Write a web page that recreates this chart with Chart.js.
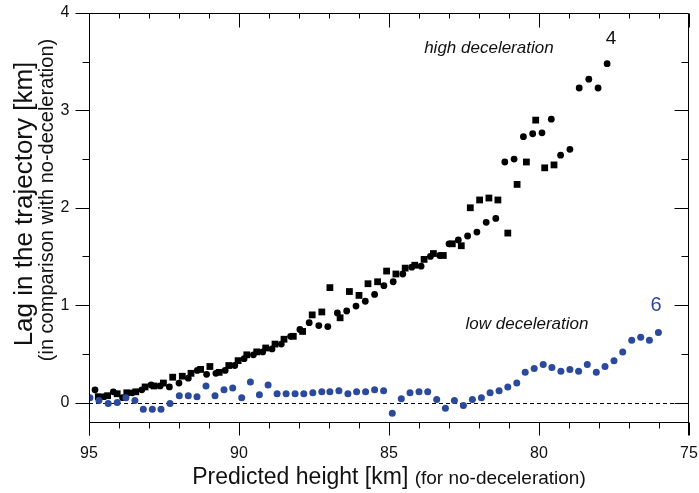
<!DOCTYPE html>
<html>
<head>
<meta charset="utf-8">
<script src="https://cdn.jsdelivr.net/npm/chart.js@4/dist/chart.umd.min.js"></script>
<style>
html,body{margin:0;padding:0;background:#fff;}
#wrap{width:699px;height:493px;}
</style>
</head>
<body>
<div id="wrap"><canvas id="c" width="699" height="493"></canvas></div>
<script>
// high deceleration (case 4) – circles
const circleX = [94.80,94.50,94.19,93.88,93.56,93.24,92.93,92.63,92.32,92.00,91.69,91.39,91.08,90.77,90.46,90.14,89.83,89.52,89.21,88.90,88.59,88.28,87.97,87.66,87.34,87.04,86.72,86.41,86.10,85.79,85.48,85.17,84.86,84.54,84.24,83.93,83.62,83.31,83.00,82.69,82.38,82.07,81.76,81.44,81.14,80.83,80.52,80.21,79.90,79.59,79.28,78.97,78.66,78.34,78.03,77.73];
const circleY = [0.13,0.06,0.11,0.05,0.10,0.13,0.18,0.17,0.16,0.20,0.25,0.33,0.29,0.30,0.33,0.38,0.45,0.49,0.52,0.55,0.60,0.68,0.75,0.82,0.79,0.78,0.92,0.94,0.99,1.04,1.11,1.20,1.24,1.32,1.39,1.40,1.50,1.51,1.63,1.67,1.71,1.75,1.85,1.89,2.47,2.50,2.73,2.76,2.77,2.91,2.54,2.60,3.23,3.32,3.23,3.48];
// high deceleration (case 4) – squares
const squareX = [94.69,94.38,94.06,93.74,93.44,93.13,92.83,92.52,92.21,91.89,91.60,91.28,90.97,90.66,90.34,90.03,89.74,89.41,89.11,88.80,88.50,88.19,87.88,87.56,87.24,86.97,86.63,86.32,86.00,85.70,85.38,85.08,84.77,84.46,84.14,83.83,83.52,83.19,82.89,82.59,82.29,81.98,81.67,81.37,81.04,80.73,80.42,80.11,79.81,79.50];
const squareY = [0.06,0.07,0.09,0.10,0.11,0.16,0.17,0.20,0.26,0.27,0.30,0.34,0.37,0.31,0.38,0.43,0.49,0.52,0.56,0.60,0.65,0.68,0.73,0.90,0.93,1.18,0.87,1.14,1.10,1.22,1.24,1.35,1.32,1.38,1.41,1.47,1.53,1.51,1.63,1.61,2.00,2.08,2.10,2.08,1.74,2.24,2.47,2.90,2.41,2.44];
// low deceleration (case 6) – blue circles
const blueX = [94.97,94.67,94.36,94.06,93.77,93.47,93.19,92.89,92.60,92.30,91.99,91.69,91.40,91.10,90.80,90.50,90.21,89.91,89.62,89.32,89.03,88.73,88.43,88.13,87.84,87.54,87.24,86.97,86.67,86.37,86.08,85.78,85.48,85.18,84.89,84.59,84.30,84.00,83.71,83.41,83.12,82.82,82.52,82.22,81.92,81.63,81.33,81.04,80.74,80.46,80.16,79.86,79.57,79.27,78.97,78.68,78.39,78.09,77.80,77.50,77.21,76.91,76.61,76.32,76.02];
const blueY = [0.05,0.02,-0.01,0.00,0.05,0.02,-0.07,-0.07,-0.07,-0.01,0.07,0.07,0.06,0.17,0.07,0.13,0.15,0.05,0.21,0.08,0.18,0.09,0.09,0.09,0.09,0.10,0.11,0.11,0.12,0.09,0.11,0.11,0.13,0.12,-0.11,0.04,0.10,0.11,0.11,0.03,-0.06,0.02,-0.03,0.03,0.05,0.10,0.12,0.16,0.20,0.31,0.35,0.39,0.36,0.32,0.34,0.32,0.39,0.31,0.37,0.43,0.52,0.64,0.67,0.64,0.72];

const xTickLabels = [95, 90, 85, 80, 75];
const yTickLabels = [0, 1, 2, 3, 4];
const xTitle = 'Predicted height [km]';
const xSubTitle = '(for no-deceleration)';
const yTitle = 'Lag in the trajectory [km]';
const ySubTitle = '(in comparison with no-deceleration)';
const highLabel = 'high deceleration';
const lowLabel = 'low deceleration';
const highCase = '4';
const lowCase = '6';

const BLUE = '#2b4a9c';
const FONT = '"Liberation Sans", Arial, sans-serif';

function pts(xs, ys){ return xs.map((x,i)=>({x:x, y:ys[i]})); }

const axesPlugin = {
  id: 'axesPlugin',
  beforeDatasetsDraw(chart){
    const ctx = chart.ctx, ys = chart.scales.y;
    const a = chart.chartArea;
    ctx.save();
    const y0 = Math.round(ys.getPixelForValue(0)) + 0.5;
    ctx.strokeStyle = '#000'; ctx.lineWidth = 1;
    ctx.setLineDash([4,3]);
    ctx.beginPath(); ctx.moveTo(a.left, y0); ctx.lineTo(a.right, y0); ctx.stroke();
    ctx.setLineDash([]);
    ctx.restore();
  },
  afterDraw(chart){
    const ctx = chart.ctx, xs = chart.scales.x, ys = chart.scales.y;
    const a = chart.chartArea;
    const L = Math.round(a.left)+0.5, R = Math.round(a.right)-0.5, T = Math.round(a.top)+0.5, B = Math.round(a.bottom)+0.5;
    ctx.save();
    ctx.strokeStyle = '#000'; ctx.lineWidth = 1;
    // frame
    ctx.beginPath();
    ctx.moveTo(L, T); ctx.lineTo(R, T);
    ctx.moveTo(L, T); ctx.lineTo(L, B + 13);
    ctx.moveTo(L, B); ctx.lineTo(R, B);
    ctx.moveTo(R, T); ctx.lineTo(R, B + 13);
    ctx.stroke();
    // x ticks
    ctx.beginPath();
    for (let v = 75; v <= 95; v++) {
      const px = Math.round(xs.getPixelForValue(v)) + 0.5;
      const major = v % 5 === 0;
      ctx.moveTo(px, B); ctx.lineTo(px, B + (major ? 13 : 6));
      ctx.moveTo(px, T); ctx.lineTo(px, T + (major ? 14 : 5));
    }
    // y ticks
    for (let v = 0; v <= 4.001; v += 0.5) {
      const py = Math.round(ys.getPixelForValue(v)) + 0.5;
      const major = Math.abs(v - Math.round(v)) < 1e-6;
      ctx.moveTo(L, py); ctx.lineTo(L - (major ? 14 : 7), py);
      ctx.moveTo(R, py); ctx.lineTo(R - (major ? 14 : 7), py);
    }
    ctx.stroke();
    // tick labels
    ctx.fillStyle = '#111';
    ctx.font = '16px ' + FONT;
    ctx.textAlign = 'center'; ctx.textBaseline = 'middle';
    xTickLabels.forEach(v => ctx.fillText(String(v), xs.getPixelForValue(v), B + 31));
    ctx.textAlign = 'right';
    yTickLabels.forEach(v => ctx.fillText(String(v), L - 20, ys.getPixelForValue(v)));
    // x title
    ctx.textBaseline = 'alphabetic'; ctx.textAlign = 'left';
    ctx.font = '23px ' + FONT;
    const w1 = ctx.measureText(xTitle + ' ').width;
    ctx.font = '19px ' + FONT;
    const w2 = ctx.measureText(xSubTitle).width;
    const cx = (a.left + a.right) / 2;
    let sx = cx - (w1 + w2) / 2;
    ctx.font = '23px ' + FONT;
    ctx.fillText(xTitle, sx, 484);
    ctx.font = '19px ' + FONT;
    ctx.fillText(xSubTitle, sx + w1, 484);
    // y titles
    ctx.save();
    ctx.translate(32, 204); ctx.rotate(-Math.PI/2);
    ctx.textAlign = 'center'; ctx.font = '26px ' + FONT;
    ctx.fillText(yTitle, 0, 0);
    ctx.restore();
    ctx.save();
    ctx.translate(53, 200); ctx.rotate(-Math.PI/2);
    ctx.textAlign = 'center'; ctx.font = '20px ' + FONT;
    ctx.fillText(ySubTitle, 0, 0);
    ctx.restore();
    // annotations
    ctx.textAlign = 'center'; ctx.textBaseline = 'middle';
    ctx.font = 'italic 17px ' + FONT;
    ctx.fillStyle = '#111';
    ctx.fillText(highLabel, xs.getPixelForValue(81.67), ys.getPixelForValue(3.64));
    ctx.fillText(lowLabel, xs.getPixelForValue(80.4), ys.getPixelForValue(0.807));
    ctx.font = '19px ' + FONT;
    ctx.fillText(highCase, xs.getPixelForValue(77.6), ys.getPixelForValue(3.74));
    ctx.fillStyle = BLUE;
    ctx.font = '20px ' + FONT;
    ctx.fillText(lowCase, xs.getPixelForValue(76.1), ys.getPixelForValue(1.0));
    ctx.restore();
  }
};

new Chart(document.getElementById('c'), {
  type: 'scatter',
  data: {
    datasets: [
      { label: 'low deceleration (6)', data: pts(blueX, blueY), pointStyle: 'circle', pointRadius: 3.5, backgroundColor: BLUE, borderColor: BLUE, borderWidth: 0 },
      { label: 'high deceleration (4) squares', data: pts(squareX, squareY), pointStyle: 'rect', pointRadius: 4.8, backgroundColor: '#000', borderColor: '#000', borderWidth: 0 },
      { label: 'high deceleration (4) circles', data: pts(circleX, circleY), pointStyle: 'circle', pointRadius: 3.4, backgroundColor: '#000', borderColor: '#000', borderWidth: 0 }
    ]
  },
  options: {
    responsive: false,
    animation: false,
    devicePixelRatio: 1,
    layout: { padding: { left: 89, right: 10, top: 13, bottom: 71 } },
    plugins: { legend: { display: false }, tooltip: { enabled: false } },
    scales: {
      x: { type: 'linear', reverse: true, min: 75, max: 95, display: false },
      y: { type: 'linear', min: -0.2, max: 4, display: false }
    }
  },
  plugins: [axesPlugin]
});
</script>
</body>
</html>
